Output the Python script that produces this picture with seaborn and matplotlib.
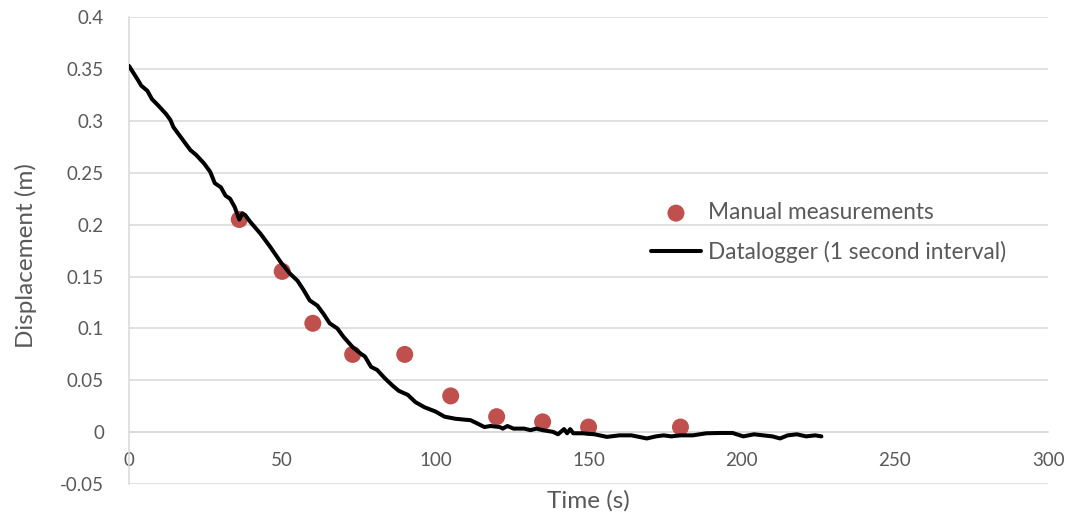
import matplotlib
matplotlib.use("Agg")
import matplotlib.pyplot as plt
import numpy as np
import pandas as pd
import seaborn as sns
from matplotlib.ticker import FuncFormatter, MultipleLocator

# manual readings (red dots)
manual_time = [36, 50, 60, 73, 90, 105, 120, 135, 150, 180]
manual_disp = [0.205, 0.155, 0.105, 0.075, 0.075, 0.035, 0.015, 0.010, 0.005, 0.005]

# datalogger trace
logger_time = [0, 3, 4, 6, 7.5, 9.5, 12, 13.5, 14.5, 16.5,
               18.5, 20, 22, 24.5, 26.5, 28, 29, 30, 31.5, 33,
               34.5, 36, 37, 38, 39.5, 43, 46, 49.5, 52.5, 55,
               57, 59, 61.5, 63.5, 65.5, 68, 70, 73, 75.5, 77,
               79, 81, 83.5, 86, 88, 91, 93.5, 96.5, 100, 103,
               106.5, 110, 111.5, 114, 116, 118, 121, 122, 123.5, 125.5,
               129, 131, 133, 135, 138.5, 140, 142, 143, 144, 145,
               148, 152, 156, 160, 164, 169, 172, 174.5, 177, 180,
               184, 188.5, 193, 197, 200.5, 204, 207, 210, 212.5, 215,
               218, 221, 224, 226]
logger_disp = [0.353, 0.339, 0.334, 0.329, 0.321, 0.315, 0.307, 0.301, 0.294, 0.286,
               0.278, 0.272, 0.267, 0.259, 0.251, 0.240, 0.238, 0.236, 0.228, 0.225,
               0.217, 0.205, 0.211, 0.209, 0.203, 0.191, 0.179, 0.164, 0.153, 0.146,
               0.137, 0.127, 0.122, 0.114, 0.105, 0.100, 0.092, 0.082, 0.076, 0.073,
               0.063, 0.060, 0.052, 0.045, 0.040, 0.036, 0.029, 0.024, 0.020, 0.015,
               0.013, 0.012, 0.0116, 0.008, 0.005, 0.006, 0.005, 0.0035, 0.006, 0.0035,
               0.0035, 0.002, 0.0035, 0.002, 0.0003, -0.002, 0.003, -0.001, 0.003, -0.001,
               -0.001, -0.002, -0.0045, -0.003, -0.003, -0.006, -0.004, -0.003, -0.004, -0.003,
               -0.003, -0.001, -0.0007, -0.0007, -0.004, -0.002, -0.003, -0.004, -0.006, -0.003,
               -0.002, -0.004, -0.003, -0.004]

df_manual = pd.DataFrame({"Time": manual_time, "Disp": manual_disp})
df_logger = pd.DataFrame({"Time": logger_time, "Disp": logger_disp})

sns.set_theme(style="white")
plt.rcParams["font.family"] = ["Lato", "DejaVu Sans"]
grey_txt = "#595959"
grid_col = "#d9d9d9"

fig = plt.figure(figsize=(10.75, 5.2), dpi=100)
ax = fig.add_axes([0.12, 0.069, 0.855, 0.898])

sns.scatterplot(data=df_manual, x="Time", y="Disp", ax=ax, s=150, color="#C0504D",
                edgecolor="none", label="Manual measurements", zorder=3)
sns.lineplot(data=df_logger, x="Time", y="Disp", ax=ax, color="black", linewidth=2.9,
             estimator=None, label="Datalogger (1 second interval)", zorder=4)

ax.set_xlim(0, 300)
ax.set_ylim(-0.05, 0.4)
ax.xaxis.set_major_locator(MultipleLocator(50))
ax.yaxis.set_major_locator(MultipleLocator(0.05))
ax.yaxis.set_major_formatter(FuncFormatter(lambda v, p: f"{round(v, 2):g}"))
ax.xaxis.set_major_formatter(FuncFormatter(lambda v, p: f"{v:g}"))

ax.grid(axis="y", color=grid_col, linewidth=1.1)
ax.set_axisbelow(True)
for s in ["top", "right"]:
    ax.spines[s].set_visible(False)
ax.spines["bottom"].set_position(("data", 0))
ax.spines["bottom"].set_color(grid_col)
ax.spines["left"].set_color(grid_col)
ax.spines["bottom"].set_linewidth(1.1)
ax.spines["left"].set_linewidth(1.1)

ax.tick_params(axis="both", length=0, labelsize=13.5, labelcolor=grey_txt)
ax.tick_params(axis="y", pad=18)
ax.tick_params(axis="x", pad=14)

ax.set_xlabel("Time (s)", fontsize=17.5, color=grey_txt)
ax.set_ylabel("Displacement (m)", fontsize=17.5, color=grey_txt)
ax.xaxis.set_label_coords(0.5, -0.012)
ax.yaxis.set_label_coords(-0.1, 0.49)

leg = ax.legend(loc="upper left", bbox_to_anchor=(0.568, 0.604), frameon=False,
                fontsize=16.3, handlelength=2.2, handletextpad=0.3,
                labelspacing=0.8, borderpad=0, borderaxespad=0)
for t in leg.get_texts():
    t.set_color(grey_txt)

fig.savefig("out.png", dpi=100)
